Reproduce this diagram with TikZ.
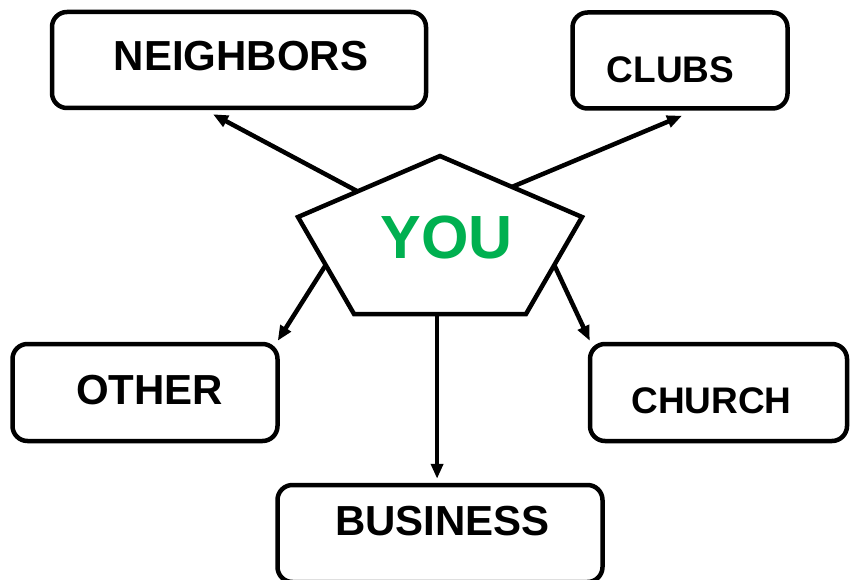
\documentclass[tikz,border=0pt]{standalone}
\usepackage{fontspec}
\setmainfont{Liberation Sans}
\usetikzlibrary{arrows.meta,calc}
\definecolor{yougreen}{RGB}{0,176,80}
\tikzset{
  box/.style={draw=black, line width=4.5pt, rounded corners=15pt, inner sep=0pt, fill=white},
  lbl/.style={anchor=base, inner sep=0pt, font=\bfseries\fontsize{42}{42}\selectfont},
  slbl/.style={anchor=base, inner sep=0pt, font=\bfseries\fontsize{37}{37}\selectfont},
  arr/.style={line width=4.5pt, -{Triangle[length=15pt,width=12pt]}},
  penta/.style={draw=black, line width=4.5pt, line join=miter, fill=white}
}
\begin{document}
\begin{tikzpicture}[x=1pt,y=-1pt]
\useasboundingbox (0,0) rectangle (850,580);
% boxes
\node[box, minimum width=374pt, minimum height=96pt] (nb) at (239,60) {};
\node[box, minimum width=215pt, minimum height=96pt] (cl) at (680,60.5) {};
\node[box, minimum width=265pt, minimum height=97pt] (ot) at (145,392.5) {};
\node[box, minimum width=257pt, minimum height=97pt] (ch) at (718.5,392.5) {};
\node[box, minimum width=325pt, minimum height=97pt] (bu) at (440,533.5) {};
% labels
\node[lbl] (tnb) at (241,71) {NEIGHBORS};
\node[slbl] (tcl) at (670.5,83) {CLUBS};
\node[lbl] (tot) at (149.5,404) {OTHER};
\node[slbl] (tch) at (711.5,413) {CHURCH};
\node[lbl] (tbu) at (442.5,535) {BUSINESS};
% pentagon
\coordinate (pt) at (440,156);
\coordinate (pl) at (298,217);
\coordinate (pr) at (582,217);
\coordinate (pbl) at (354,314);
\coordinate (pbr) at (526,314);
\draw[penta] (pt) -- (pr) -- (pbr) -- (pbl) -- (pl) -- cycle;
\node[anchor=base, inner sep=0pt, text=yougreen, font=\bfseries\fontsize{61}{61}\selectfont] (you) at (446.5,258) {YOU};
% arrow starts on pentagon edges
\coordinate (s1) at ($(pl)!0.42!(pt)$);
\coordinate (s2) at ($(pt)!0.507!(pr)$);
\coordinate (s3) at ($(pl)!0.495!(pbl)$);
\coordinate (s4) at ($(pr)!0.495!(pbr)$);
\coordinate (s5) at ($(pbl)!0.483!(pbr)$);
% arrows
\draw[arr] (s1) -- ($(nb.south)+(-26,4)$);
\draw[arr] (s2) -- ($(cl.south)+(2,5)$);
\draw[arr] (s3) -- ($(ot.north east)+(-2,-1)$);
\draw[arr] (s4) -- ($(ch.north west)+(2,-1)$);
\draw[arr] (s5) -- ($(s5 |- bu.north)+(0,-4)$);
\end{tikzpicture}
\end{document}
